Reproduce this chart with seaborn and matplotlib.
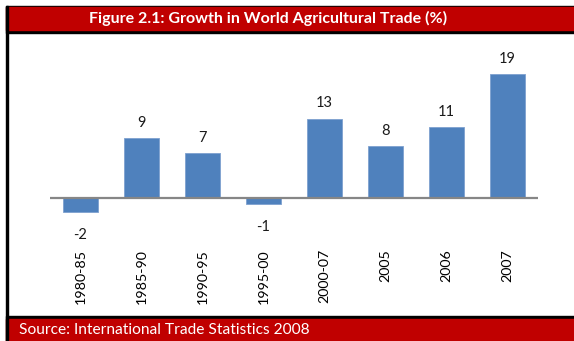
import matplotlib
matplotlib.use("Agg")
import matplotlib.pyplot as plt
import seaborn as sns
import pandas as pd
from matplotlib.patches import Rectangle

categories = ["1980-85", "1985-90", "1990-95", "1995-00", "2000-07", "2005", "2006", "2007"]
values = [-2.25, 9.15, 6.85, -1.0, 12.2, 8.0, 10.85, 19.0]
value_labels = ["-2", "9", "7", "-1", "13", "8", "11", "19"]
title_text = "Figure 2.1: Growth in World Agricultural Trade (%)"
source_text = "Source: International Trade Statistics 2008"

sns.set_style("white")
plt.rcParams["font.family"] = ["Lato", "DejaVu Sans"]

W, H = 574, 341
fig = plt.figure(figsize=(W / 100, H / 100), dpi=100)

def fy(py):
    return 1 - py / H

def fx(px):
    return px / W

# frame decorations (figure coordinates)
red = "#C00000"
fig.patches.append(Rectangle((fx(6), fy(32.5)), 1, (32.5 - 6) / H, transform=fig.transFigure, color="black", zorder=0))
fig.patches.append(Rectangle((fx(6), fy(30)), 1, (30 - 7) / H, transform=fig.transFigure, color=red, zorder=1))
fig.patches.append(Rectangle((fx(6), 0), 1, (H - 316) / H, transform=fig.transFigure, color="black", zorder=0))
fig.patches.append(Rectangle((fx(6), 0), 1, (H - 318.5) / H, transform=fig.transFigure, color=red, zorder=1))
fig.patches.append(Rectangle((fx(6), 0), 2 / W, 1 - 6 / H, transform=fig.transFigure, color="black", zorder=2))

fig.text(fx(268), fy(18.5), title_text, color="white", fontweight="bold", fontsize=11.5,
         ha="center", va="center")
fig.text(fx(19), fy(330), source_text, color="white", fontsize=11.2, ha="left", va="center")

ax_top, ax_bot = 40, 240
ax = fig.add_axes([fx(50), fy(ax_bot), (538 - 50) / W, (ax_bot - ax_top) / H])
df = pd.DataFrame({"period": categories, "growth": values})
sns.barplot(data=df, x="period", y="growth", color="#4F81BD", saturation=1, width=0.56,
            edgecolor="#7EA0CF", linewidth=0.6, ax=ax, zorder=3)

zero_px = 197.7
scale = 6.49
ax.set_xlim(-0.5, len(categories) - 0.5)
ax.set_ylim(-(ax_bot - zero_px) / scale, (zero_px - ax_top) / scale)
ax.axhline(0, color="#868686", lw=1.6, zorder=4)
for s in ax.spines.values():
    s.set_visible(False)
ax.set_yticks([])
ax.set_xlabel("")
ax.set_ylabel("")
ax.tick_params(axis="x", length=0, pad=6.5, labelsize=10.3, labelcolor="black")
for lab in ax.get_xticklabels():
    lab.set_rotation(90)
    lab.set_va("top")
    lab.set_ha("center")

for i, (v, t) in enumerate(zip(values, value_labels)):
    off = 11 if v >= 0 else -16.5
    ax.annotate(t, (i, v), xytext=(0, off), textcoords="offset points",
                ha="center", va="center", fontsize=10.5, color="#1a1a1a")

fig.savefig("out.png", dpi=100, facecolor="white")
